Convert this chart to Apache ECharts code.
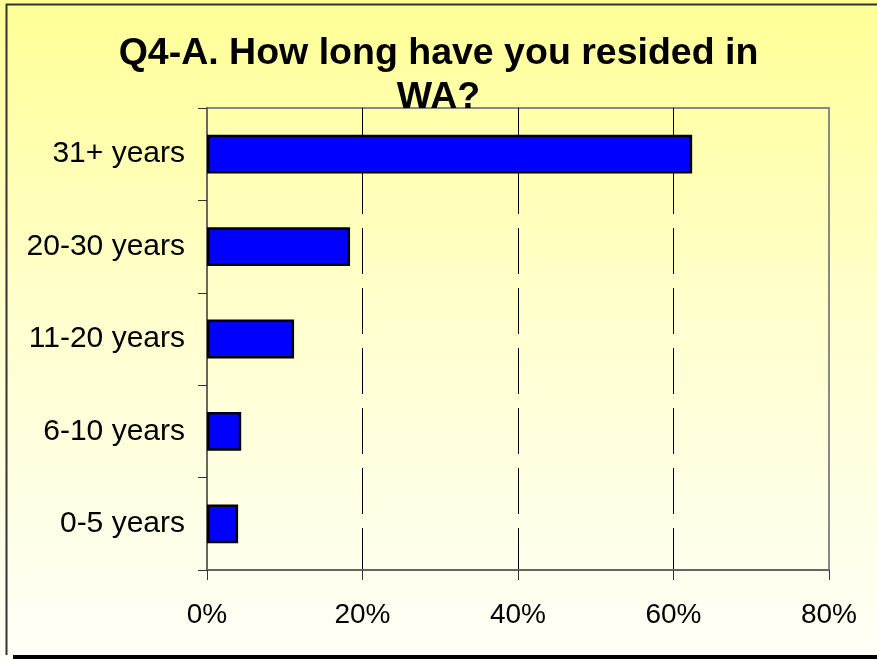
<!DOCTYPE html>
<html>
<head>
<meta charset="utf-8">
<script src="https://cdn.jsdelivr.net/npm/echarts@6/dist/echarts.min.js"></script>
<style>
  html, body { margin: 0; padding: 0; }
  #chart { width: 877px; height: 659px; }
</style>
</head>
<body>
<div id="chart"></div>
<script>
// residence length categories, bottom to top as drawn
const categories = ['0-5 years', '6-10 years', '11-20 years', '20-30 years', '31+ years']
// share of respondents, percent
const shares = [4.0, 4.4, 11.2, 18.4, 62.4]
const xTicks = [0, 20, 40, 60, 80]

const font = 'Liberation Sans, Arial, sans-serif'
const chart = echarts.init(document.getElementById('chart'))

chart.setOption({
  backgroundColor: new echarts.graphic.LinearGradient(0, 0, 0, 1, [
    { offset: 0, color: '#FFFF96' },
    { offset: 0.5, color: '#FFFFD0' },
    { offset: 1, color: '#FFFFF8' }
  ]),
  title: {
    text: 'Q4-A. How long have you resided in\nWA?',
    left: 'center',
    top: 27,
    textStyle: {
      fontFamily: font,
      fontWeight: 'bold',
      fontSize: 37.5,
      lineHeight: 44,
      color: '#000'
    }
  },
  graphic: [
    { type: 'line', shape: { x1: 6, y1: 4.5, x2: 877, y2: 4.5 }, style: { stroke: '#333', lineWidth: 2 } },
    { type: 'line', shape: { x1: 6.5, y1: 4, x2: 6.5, y2: 655 }, style: { stroke: '#333', lineWidth: 2 } },
    { type: 'rect', shape: { x: 13, y: 655, width: 864, height: 4 }, style: { fill: '#000' } }
  ],
  grid: {
    left: 207,
    right: 48,
    top: 108,
    bottom: 89,
    show: true,
    backgroundColor: 'transparent',
    borderColor: '#888',
    borderWidth: 2,
    containLabel: false
  },
  xAxis: {
    type: 'value',
    min: xTicks[0],
    max: xTicks[xTicks.length - 1],
    interval: xTicks[1] - xTicks[0],
    axisLine: { show: true, lineStyle: { color: '#666', width: 2 } },
    axisTick: { show: true, length: 10, lineStyle: { color: '#333', width: 1 } },
    axisLabel: {
      margin: 31,
      color: '#000',
      fontFamily: font,
      fontSize: 28,
      formatter: (v) => v + '%'
    },
    splitLine: {
      show: true,
      lineStyle: {
        color: ['transparent', '#000', '#000', '#000', 'transparent'],
        width: 1,
        type: [46, 14]
      }
    }
  },
  yAxis: {
    type: 'category',
    data: categories,
    axisLine: { show: true, lineStyle: { color: '#666', width: 2 } },
    axisTick: { show: true, length: 9, lineStyle: { color: '#333', width: 1 } },
    axisLabel: {
      margin: 22,
      color: '#000',
      fontFamily: font,
      fontSize: 30,
      padding: [10, 0, 0, 0]
    },
    splitLine: { show: false }
  },
  series: [
    {
      type: 'bar',
      data: shares,
      barWidth: '42%',
      itemStyle: { color: '#0000FF', borderColor: '#000', borderWidth: 2.5 },
      silent: true
    }
  ],
  animation: false
})
</script>
</body>
</html>
